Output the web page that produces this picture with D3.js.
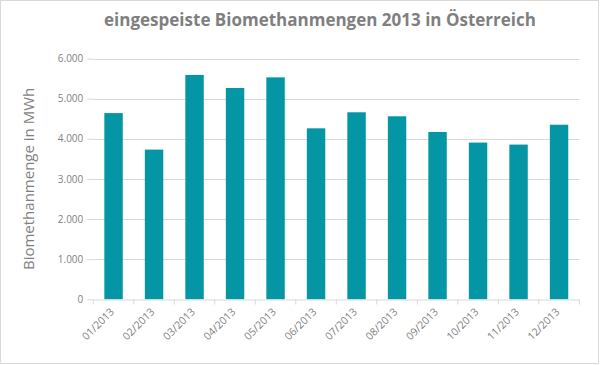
<!DOCTYPE html>
<html><head><meta charset="utf-8">
<script src="https://cdn.jsdelivr.net/npm/d3@7"></script>
<style>body{margin:0;background:#fff;}svg{display:block;font-family:"Open Sans",sans-serif;}</style>
</head><body>
<svg id="c" width="600" height="365"></svg>
<script>
const categories = ["01/2013","02/2013","03/2013","04/2013","05/2013","06/2013","07/2013","08/2013","09/2013","10/2013","11/2013","12/2013"];
const values = [4640, 3730, 5590, 5265, 5530, 4260, 4660, 4560, 4170, 3905, 3855, 4350];
const yTicks = [0, 1000, 2000, 3000, 4000, 5000, 6000];
const title = "eingespeiste Biomethanmengen 2013 in Österreich";
const yTitle = "Biomethanmenge in MWh";

(function(){
const svg = d3.select("#c");
svg.append("rect").attr("x",0.5).attr("y",0.5).attr("width",598).attr("height",363)
  .attr("fill","#fff").attr("stroke","#d9d9d9");

const left = 93.3, right = 579.3, plotTop = 58.5, bottom = 299.3;
const x = d3.scaleBand().domain(categories).range([left, right]).paddingInner(0.545).paddingOuter(0.2725);
const y = d3.scaleLinear().domain([0, 6000]).range([bottom, plotTop]);
const fmt = d => d3.format(",")(d).replace(/,/g, ".");

svg.append("g").selectAll("line").data(yTicks.filter(d=>d>0)).join("line")
  .attr("x1", left).attr("x2", right).attr("y1", d=>Math.round(y(d))+0.5).attr("y2", d=>Math.round(y(d))+0.5)
  .attr("stroke","#d9d9d9").attr("stroke-width",1);

const ya = svg.append("g").attr("transform",`translate(${left},0)`)
  .call(d3.axisLeft(y).tickValues(yTicks).tickFormat(fmt).tickSize(6).tickPadding(4));
ya.select(".domain").remove();
ya.selectAll(".tick line").attr("stroke","#d9d9d9");
ya.selectAll(".tick text").attr("fill","#7f7f7f").style("font-size","10px").style("font-family","'Open Sans',sans-serif");

svg.append("g").selectAll("rect").data(values).join("rect")
  .attr("x",(d,i)=>x(categories[i])).attr("width",x.bandwidth())
  .attr("y",d=>y(d)).attr("height",d=>y(0)-y(d)).attr("fill","#0596a6");

const xa = svg.append("g").attr("transform",`translate(0,${Math.round(bottom)+0.5})`)
  .call(d3.axisBottom(x).tickSize(0).tickPadding(6));
xa.select(".domain").attr("stroke","#d9d9d9");
xa.selectAll(".tick text").attr("fill","#7f7f7f").style("font-size","10.5px").style("font-family","'Open Sans',sans-serif")
  .attr("text-anchor","end").attr("transform","translate(0,9) rotate(-45)").attr("dy","0.35em").attr("y",0).attr("x",-2);
const step = x.step();
const seps = d3.range(categories.length+1).map(i => left + i*step);
xa.append("g").selectAll("line").data(seps).join("line")
  .attr("x1",d=>d).attr("x2",d=>d).attr("y1",0).attr("y2",5).attr("stroke","#d9d9d9");

svg.append("text").attr("x",320).attr("y",26).attr("text-anchor","middle")
  .attr("fill","#7f7f7f").style("font-size","17px").style("font-weight","bold").text(title);
svg.append("text").attr("transform",`translate(34,${(plotTop+bottom)/2}) rotate(-90)`).attr("text-anchor","middle")
  .attr("fill","#7f7f7f").style("font-size","15px").text(yTitle);
})();
</script>
</body></html>
